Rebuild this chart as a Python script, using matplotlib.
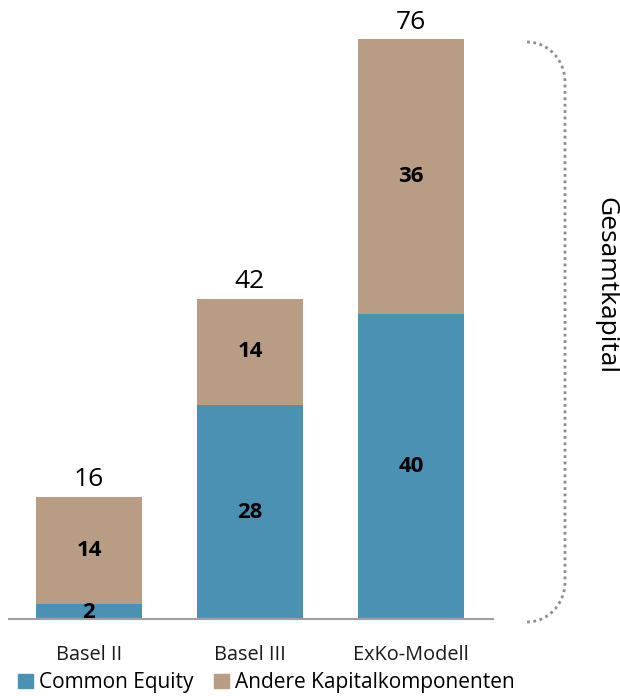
import numpy as np
import matplotlib
matplotlib.use('Agg')
import matplotlib.pyplot as plt
from matplotlib.patches import Patch

plt.rcParams['font.family'] = ['Open Sans', 'DejaVu Sans']

# data
categories = ['Basel II', 'Basel III', 'ExKo-Modell']
common_equity = [2, 28, 40]
andere = [14, 14, 36]
totals = [16, 42, 76]

blue = '#4A91B4'
tan = '#B89C83'

fig = plt.figure(figsize=(6.2, 6.96), dpi=100)
# axes from pixel x 9..493, baseline at y=619 (from top)
ax = fig.add_axes([9 / 620, 77 / 696, 484 / 620, 619 / 696])

x = np.arange(len(categories))
w = 0.66
ax.bar(x, common_equity, width=w, color=blue)
ax.bar(x, andere, width=w, bottom=common_equity, color=tan)

for i in range(len(categories)):
    ce = common_equity[i]
    an = andere[i]
    ax.text(x[i], ce / 2 if ce > 4 else ce / 2 - 0.2, str(ce), ha='center', va='center',
            fontsize=16, fontweight='bold', color='black')
    ax.text(x[i], ce + an / 2, str(an), ha='center', va='center',
            fontsize=16, fontweight='bold', color='black')
    ax.text(x[i], totals[i] + 0.6, str(totals[i]), ha='center', va='bottom',
            fontsize=19, color='black')

ax.set_xlim(-0.497, 2.51)
ax.set_ylim(0, 619 / 7.63)
for s in ['top', 'right', 'left']:
    ax.spines[s].set_visible(False)
ax.spines['bottom'].set_color('#A0A0A0')
ax.spines['bottom'].set_linewidth(1.5)
ax.set_yticks([])
ax.set_xticks(x)
ax.set_xticklabels(categories, fontsize=14.3, color='#1a1a1a')
ax.tick_params(axis='x', length=0, pad=19)

# bracket overlay in pixel coords
ov = fig.add_axes([0, 0, 1, 1])
ov.set_xlim(0, 620)
ov.set_ylim(696, 0)
ov.axis('off')
ov.patch.set_alpha(0)
t = np.linspace(0, np.pi / 2, 30)
rx, ry = 38, 40
top_x = 527 + rx * np.sin(t)
top_y = 42 + ry * (1 - np.cos(t))
bot_x = 527 + rx * np.cos(t)
bot_y = 582 + ry * np.sin(t)
bx = np.concatenate([top_x, bot_x])
by = np.concatenate([top_y, bot_y])
ov.plot(bx, by, linestyle=(0, (1, 1.3)), color='#8C8C8C', lw=2)
ov.text(606, 286, 'Gesamtkapital', rotation=270, ha='center', va='center',
        fontsize=19, color='black')

handles = [Patch(color=blue, label='Common Equity'),
           Patch(color=tan, label='Andere Kapitalkomponenten')]
fig.legend(handles=handles, loc='lower left', bbox_to_anchor=(0.016, -0.008), ncol=2,
           frameon=False, fontsize=15, handlelength=0.7, handleheight=0.7,
           handletextpad=0.3, columnspacing=1.0, borderaxespad=0)

fig.savefig('out.png', dpi=100)
